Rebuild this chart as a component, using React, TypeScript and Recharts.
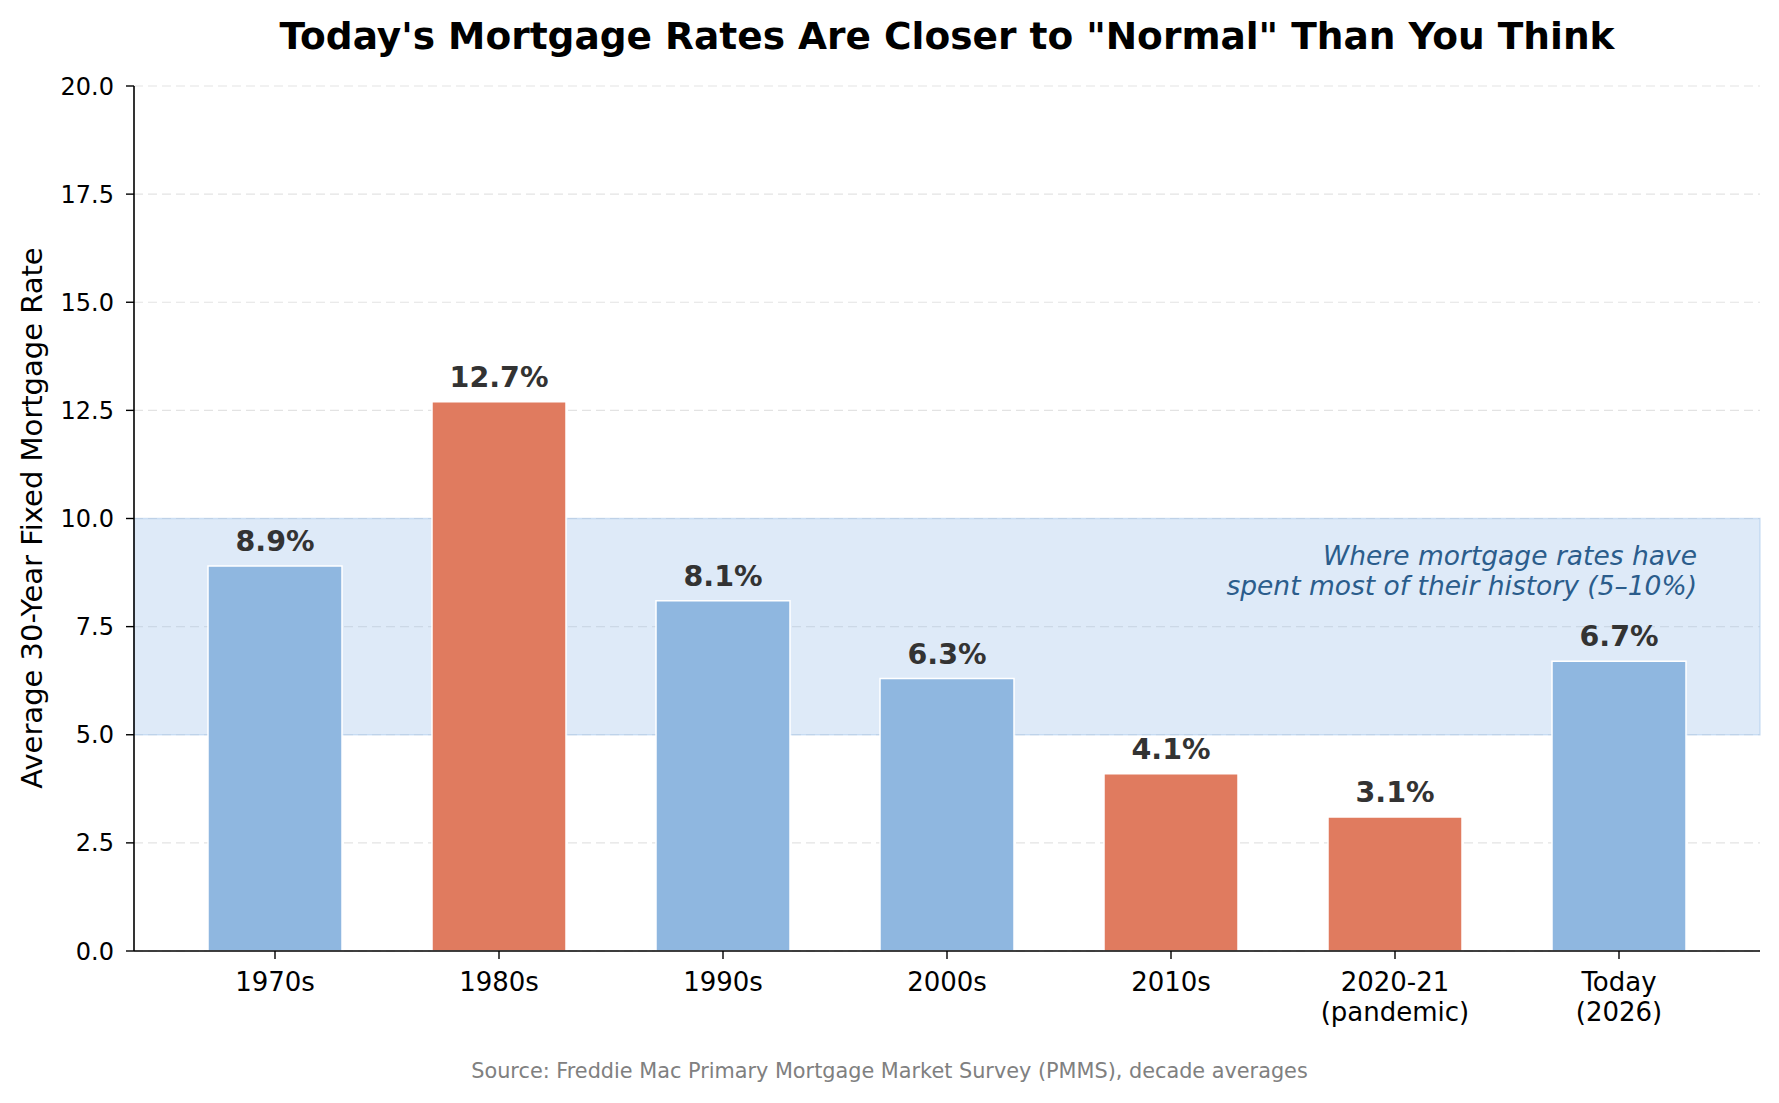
import React from "react";
import {
  ComposedChart,
  Bar,
  Cell,
  XAxis,
  YAxis,
  CartesianGrid,
  ReferenceArea,
  LabelList,
} from "recharts";

const periods = [
  "1970s",
  "1980s",
  "1990s",
  "2000s",
  "2010s",
  "2020-21\n(pandemic)",
  "Today\n(2026)",
];
const avgRates = [8.9, 12.7, 8.1, 6.3, 4.1, 3.1, 6.7];
const yTicks = [0, 2.5, 5, 7.5, 10, 12.5, 15, 17.5, 20];
const normalBand = [5, 10];

const data = periods.map((period, i) => ({ period, rate: avgRates[i] }));

const W = 1779;
const H = 1103;
const FONT = "DejaVu Sans, sans-serif";
const BLUE = "#8fb7e0";
const ORANGE = "#e07b5f";

const XTick = (props: any) => {
  const { x, y, payload } = props;
  const lines = String(payload.value).split("\n");
  return (
    <text x={x} y={y} textAnchor="middle" fontSize={26} fontFamily={FONT} fill="#000">
      {lines.map((l, i) => (
        <tspan key={i} x={x} dy={i === 0 ? 32 : 30}>
          {l}
        </tspan>
      ))}
    </text>
  );
};

const ValueLabel = (props: any) => {
  const { x, y, width, value } = props;
  return (
    <text
      x={x + width / 2}
      y={y - 15}
      textAnchor="middle"
      fontSize={28.5}
      fontWeight="bold"
      fontFamily={FONT}
      fill="#333333"
    >
      {`${value.toFixed(1)}%`}
    </text>
  );
};

const BandNote = (props: any) => {
  const vb = props.viewBox || {};
  const right = vb.x + vb.width - 63;
  return (
    <text
      textAnchor="end"
      fontSize={26.5}
      fontStyle="italic"
      fontFamily={FONT}
      fill="#2b5d8c"
    >
      <tspan x={right} y={vb.y + 46}>
        Where mortgage rates have
      </tspan>
      <tspan x={right} y={vb.y + 76}>
        spent most of their history (5–10%)
      </tspan>
    </text>
  );
};

export default function App() {
  return (
    <div style={{ position: "absolute", left: 0, top: 0, width: W, height: H, background: "#fff" }}>
      <ComposedChart
        width={W}
        height={H}
        data={data}
        margin={{ top: 86, right: 19, bottom: 52, left: 74 }}
      >
        <CartesianGrid
          vertical={false}
          stroke="#e3e3e3"
          strokeDasharray="9 5"
          strokeWidth={1.2}
        />
        <XAxis
          xAxisId="full"
          type="number"
          dataKey="none"
          domain={[0, 1]}
          allowDataOverflow
          hide
        />
        <ReferenceArea
          xAxisId="full"
          x1={0}
          x2={1}
          y1={normalBand[0]}
          y2={normalBand[1]}
          fill="#a0c4ec"
          fillOpacity={0.35}
          stroke="#a0c4ec"
          strokeOpacity={0.45}
          strokeWidth={1.5}
          label={<BandNote />}
        />
        <XAxis
          dataKey="period"
          interval={0}
          height={100}
          padding={{ left: 29, right: 29 }}
          tick={<XTick />}
          tickSize={8}
          tickMargin={0}
          axisLine={{ stroke: "#000", strokeWidth: 1.6 }}
          tickLine={{ stroke: "#000", strokeWidth: 1.4 }}
        />
        <YAxis
          width={60}
          domain={[0, 20]}
          ticks={yTicks}
          interval={0}
          tickFormatter={(v: number) => v.toFixed(1)}
          tick={{ fontSize: 24, fill: "#000", fontFamily: FONT }}
          tickSize={8}
          tickMargin={12}
          axisLine={{ stroke: "#000", strokeWidth: 1.6 }}
          tickLine={{ stroke: "#000", strokeWidth: 1.4 }}
        />
        <Bar dataKey="rate" barSize={134} stroke="#fff" strokeWidth={1.5} isAnimationActive={false}>
          {data.map((d, i) => (
            <Cell
              key={i}
              fill={d.rate < normalBand[0] || d.rate > normalBand[1] ? ORANGE : BLUE}
            />
          ))}
          <LabelList dataKey="rate" content={<ValueLabel />} />
        </Bar>
      </ComposedChart>
      <svg
        width={W}
        height={H}
        style={{ position: "absolute", left: 0, top: 0, pointerEvents: "none" }}
      >
        <text
          x={947}
          y={49}
          textAnchor="middle"
          fontSize={37.5}
          fontWeight="bold"
          fontFamily={FONT}
          fill="#000"
        >
          Today's Mortgage Rates Are Closer to "Normal" Than You Think
        </text>
        <text
          transform="translate(42,518) rotate(-90)"
          textAnchor="middle"
          fontSize={29}
          fontFamily={FONT}
          fill="#000"
        >
          Average 30-Year Fixed Mortgage Rate
        </text>
        <text
          x={889.5}
          y={1078}
          textAnchor="middle"
          fontSize={20.8}
          fontFamily={FONT}
          fill="#808080"
        >
          Source: Freddie Mac Primary Mortgage Market Survey (PMMS), decade averages
        </text>
      </svg>
    </div>
  );
}
